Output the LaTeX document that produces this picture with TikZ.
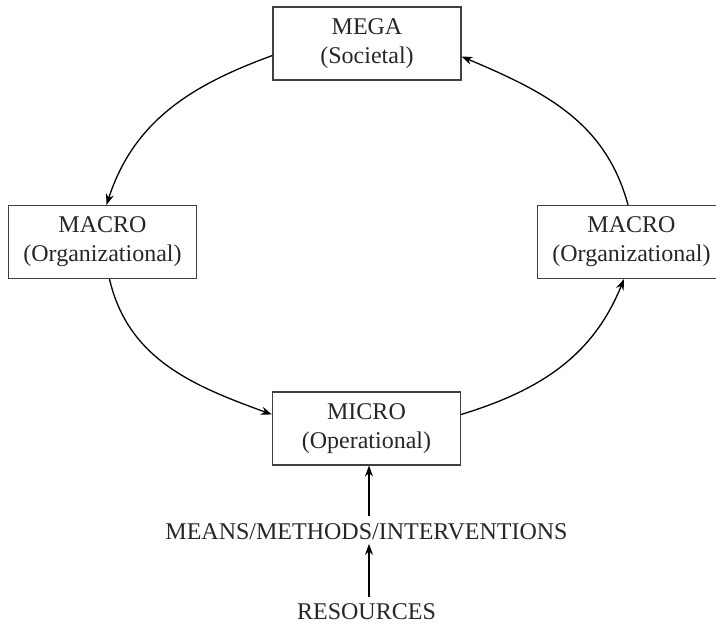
\documentclass[tikz,border=0pt]{standalone}
\usepackage{fontspec}
\setmainfont{Liberation Serif}
\usepackage{tikz}
\usetikzlibrary{arrows.meta,positioning,calc}

\begin{document}
\begin{tikzpicture}[
    x=1pt, y=1pt,
    font=\fontsize{24}{29}\selectfont,
    text=black!85,
    lvl/.style={draw=black!75, line width=1.1pt, rectangle, align=center, minimum width=188pt, minimum height=73pt, inner sep=0pt},
    cyc/.style={line width=1.3pt, -{Stealth[length=11pt,width=8pt]}},
    feed/.style={line width=1.3pt, -{Stealth[length=11pt,width=8pt]}}
]
\useasboundingbox (0,0) rectangle (716,627);

\node[lvl] (mega) at (367,583.5) {MEGA\\(Societal)};
\node[lvl] (macro_l) at (102.5,385) {MACRO\\(Organizational)};
\node[lvl] (macro_r) at (631.5,385) {MACRO\\(Organizational)};
\node[lvl] (micro) at (366.5,198.5) {MICRO\\(Operational)};
\node[below=55pt of micro] (means) {MEANS/METHODS/INTERVENTIONS};
\node[below=59pt of means, inner sep=1pt] (res) {RESOURCES};

% the cycle
\draw[cyc] ([yshift=-12pt]mega.west) to[out=200,in=72] ([xshift=4pt]macro_l.north);
\draw[cyc] ([xshift=7pt]macro_l.south) to[out=283,in=160] ([yshift=14pt]micro.west);
\draw[cyc] ([yshift=14pt]micro.east) to[out=17,in=248] ([xshift=-7.5pt]macro_r.south);
\draw[cyc] ([xshift=-3.5pt]macro_r.north) to[out=105,in=337] ([yshift=-13pt]mega.east);

\draw[feed, shorten <=5pt] ([xshift=2.5pt]means.north) -- ([xshift=2.5pt]micro.south);
\draw[feed, shorten <=6pt] ([xshift=2.5pt]res.north) -- ([xshift=2.5pt]means.south);

\end{tikzpicture}
\end{document}
